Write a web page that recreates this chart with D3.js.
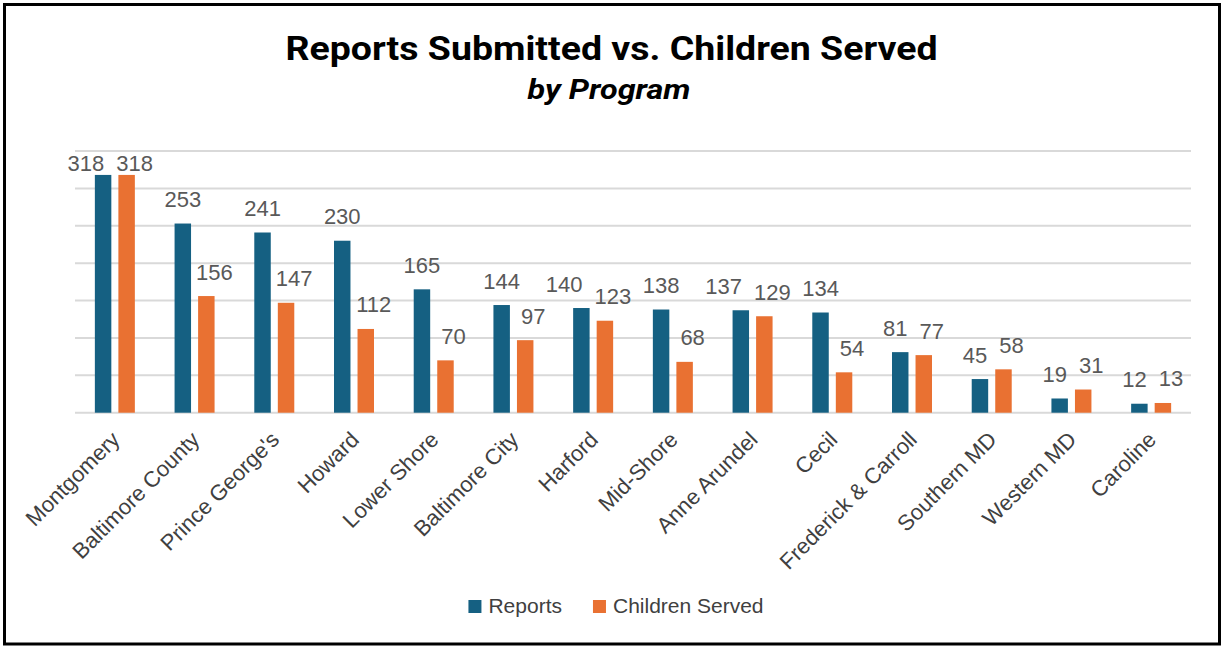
<!DOCTYPE html>
<html>
<head>
<meta charset="utf-8">
<script src="https://cdn.jsdelivr.net/npm/d3@7"></script>
<style>
  html, body { margin: 0; padding: 0; background: #ffffff; }
  svg { display: block; }
</style>
</head>
<body>
<svg id="chart" width="1225" height="646"></svg>
<script>
// Programs, in the order they are plotted
const programs = ["Montgomery", "Baltimore County", "Prince George's", "Howard", "Lower Shore",
  "Baltimore City", "Harford", "Mid-Shore", "Anne Arundel", "Cecil", "Frederick & Carroll",
  "Southern MD", "Western MD", "Caroline"];
// Series values per program
const reports = [318, 253, 241, 230, 165, 144, 140, 138, 137, 134, 81, 45, 19, 12];
const childrenServed = [318, 156, 147, 112, 70, 97, 123, 68, 129, 54, 77, 58, 31, 13];
const seriesNames = ["Reports", "Children Served"];
// Value axis gridline ticks (labels are hidden)
const yTicks = [0, 50, 100, 150, 200, 250, 300, 350];

const colors = { "Reports": "#156082", "Children Served": "#E97132" };
const plot = { left: 75, right: 1191, top: 151, bottom: 412.7 };

const svg = d3.select("#chart");

// outer frame
svg.append("rect").attr("x", 4.5).attr("y", 4.5).attr("width", 1215).attr("height", 639.5)
  .attr("fill", "#fff").attr("stroke", "#000").attr("stroke-width", 3);

// titles
svg.append("text").attr("x", 611.5).attr("y", 60)
  .attr("text-anchor", "middle")
  .attr("font-family", "Roboto, 'Liberation Sans', sans-serif")
  .attr("font-weight", 700).attr("font-size", 33)
  .attr("textLength", 652).attr("lengthAdjust", "spacingAndGlyphs")
  .attr("fill", "#000").text("Reports Submitted vs. Children Served");
svg.append("text").attr("x", 609).attr("y", 99)
  .attr("text-anchor", "middle")
  .attr("font-family", "Roboto, 'Liberation Sans', sans-serif")
  .attr("font-weight", 700).attr("font-style", "italic").attr("font-size", 27)
  .attr("textLength", 163).attr("lengthAdjust", "spacingAndGlyphs")
  .attr("fill", "#000").text("by Program");

// scales
const x0 = d3.scaleBand().domain(programs).range([plot.left, plot.right]).padding(0);
const y = d3.scaleLinear().domain([0, 350]).range([plot.bottom, plot.top]);
const half = 20;
const x1 = d3.scaleBand().domain(seriesNames)
  .range([x0.bandwidth() / 2 - half, x0.bandwidth() / 2 + half])
  .paddingInner(0.3).paddingOuter(0);

// gridlines
svg.append("g").selectAll("line").data(yTicks).join("line")
  .attr("x1", plot.left).attr("x2", plot.right)
  .attr("y1", d => y(d)).attr("y2", d => y(d))
  .attr("stroke", "#D9D9D9").attr("stroke-width", 2);

const rows = programs.map((p, i) => ({
  program: p,
  values: [
    { series: "Reports", value: reports[i] },
    { series: "Children Served", value: childrenServed[i] }
  ]
}));

// bars
const groups = svg.append("g").selectAll("g").data(rows).join("g")
  .attr("transform", d => `translate(${x0(d.program)},0)`);
groups.selectAll("rect").data(d => d.values).join("rect")
  .attr("x", d => x1(d.series))
  .attr("width", x1.bandwidth())
  .attr("y", d => y(d.value))
  .attr("height", d => y(0) - y(d.value))
  .attr("fill", d => colors[d.series]);

// value labels: above each bar, kept inside the plot area,
// the first label nudged left when the pair would collide
const labelFont = "'Liberation Sans', Arial, sans-serif";
const labelSize = 22;
const labelLayer = svg.append("g");
rows.forEach(r => {
  const cx = x0(r.program);
  const pos = r.values.map((v, j) => {
    let lx = cx + x1(v.series) + x1.bandwidth() / 2 + (j === 1 ? 8 : 0);
    let ly = Math.max(y(v.value) - 24, plot.top + 12);
    return { v, lx, ly };
  });
  const t = pos.map(p => labelLayer.append("text")
    .attr("font-family", labelFont).attr("font-size", labelSize)
    .attr("fill", "#595959").attr("text-anchor", "middle")
    .attr("dominant-baseline", "central")
    .text(p.v.value));
  const w = t.map(n => n.node().getComputedTextLength());
  if (Math.abs(pos[0].ly - pos[1].ly) < 15) {
    const gap = (pos[1].lx - w[1] / 2) - (pos[0].lx + w[0] / 2);
    if (gap < 12) pos[0].lx -= (12 - gap);
  }
  t.forEach((n, j) => n.attr("x", pos[j].lx).attr("y", pos[j].ly));
});

// category axis labels, rotated
const xAxis = svg.append("g");
xAxis.selectAll("text").data(programs).join("text")
  .attr("transform", d => `translate(${x0(d) + x0.bandwidth() / 2 + 1},${plot.bottom + 23}) rotate(-45)`)
  .attr("text-anchor", "end")
  .attr("dominant-baseline", "central")
  .attr("font-family", labelFont).attr("font-size", 22)
  .attr("fill", "#404040")
  .text(d => d);

// legend
const legend = svg.append("g");
const items = legend.selectAll("g").data(seriesNames).join("g");
items.append("rect").attr("width", 13).attr("height", 13).attr("y", -13)
  .attr("fill", d => colors[d]);
items.append("text").attr("x", 20).attr("y", 0)
  .attr("font-family", labelFont).attr("font-size", 21).attr("fill", "#404040")
  .text(d => d);
let lx = 0;
const offsets = [];
items.each(function () {
  offsets.push(lx);
  lx += this.getBBox().width + 31;
});
const total = lx - 31;
const startX = 616 - total / 2;
items.attr("transform", (d, i) => `translate(${startX + offsets[i]},613)`);
</script>
</body>
</html>
